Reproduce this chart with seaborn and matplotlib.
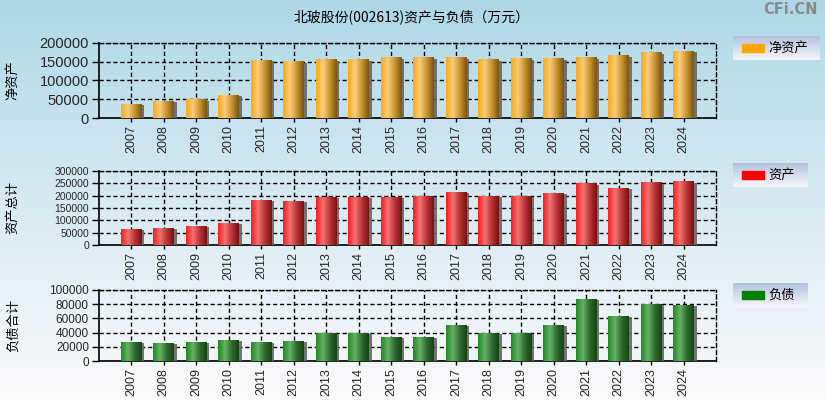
import numpy as np
import pandas as pd
import matplotlib
matplotlib.use("Agg")
import matplotlib.pyplot as plt
import matplotlib.patheffects as pe
from matplotlib.colors import LinearSegmentedColormap
import seaborn as sns

years = [str(y) for y in range(2007, 2025)]
net_assets = [37000, 45000, 50000, 61000, 154000, 151000, 156000, 156000, 161000,
              161000, 161000, 156000, 158500, 158500, 161000, 167000, 175000, 178000]
total_assets = [65600, 69600, 77700, 89700, 182000, 178000, 194000, 194000, 194000,
                199500, 214000, 199500, 199500, 210000, 250000, 230000, 254000, 258000]
liabilities = [26800, 25400, 26800, 29600, 26800, 28200, 39400, 39400, 33800,
               33800, 50700, 39400, 39400, 50700, 87300, 63400, 80300, 78900]

title = "北玻股份(002613)资产与负债（万元）"
ylabels = ["净资产", "资产总计", "负债合计"]
legend_labels = ["净资产", "资产", "负债"]
legend_colors = ["#FFA500", "#FF0000", "#008000"]
yticks_list = [list(range(0, 200001, 50000)), list(range(0, 300001, 50000)),
               list(range(0, 100001, 20000))]
tick_sizes = [10.5, 7.5, 8.5]

grads = [
    ["#FFAA10", "#F9CC80", "#C8942E", "#7A5414"],
    ["#FF1A1A", "#F07474", "#B83434", "#7A1010"],
    ["#1E8C1E", "#68B068", "#2E6A2E", "#144414"],
]

sns.set_theme(style="white")
plt.rcParams['font.family'] = ['Noto Sans CJK SC', 'DejaVu Sans']
plt.rcParams['axes.unicode_minus'] = False

fig = plt.figure(figsize=(8.25, 4), dpi=100)

# background gradient
bg = fig.add_axes([0, 0, 1, 1], zorder=-10)
bg_cmap = LinearSegmentedColormap.from_list("bg", ["#ADD8E6", "#D8EAF2", "#FBFAFA"])
bg.imshow(np.linspace(0, 1, 256).reshape(-1, 1), aspect="auto", cmap=bg_cmap,
          extent=[0, 1, 0, 1], origin="upper")
bg.set_axis_off()

positions = [
    [98.7/825, (400-118)/400, (716-98.7)/825, (118-42.7)/400],
    [98.7/825, (400-245.3)/400, (716-98.7)/825, (245.3-170.7)/400],
    [98.7/825, (400-361)/400, (716-98.7)/825, (361-290)/400],
]
series = [net_assets, total_assets, liabilities]
legend_boxes = [(733, 36, 820, 60), (733, 163, 808, 187), (733, 283, 808, 307)]

for i in range(3):
    ax = fig.add_axes(positions[i])
    ax.patch.set_alpha(0)
    df = pd.DataFrame({"year": years, "value": series[i]})
    sns.barplot(data=df, x="year", y="value", ax=ax, color=legend_colors[i],
                width=0.63, saturation=1, zorder=3, linewidth=0, edgecolor="none")
    cmap = LinearSegmentedColormap.from_list("g%d" % i, grads[i])
    gimg = np.linspace(0, 1, 64).reshape(1, -1)
    for p in ax.patches:
        x0, y0 = p.get_x(), p.get_y()
        w, h = p.get_width(), p.get_height()
        p.set_path_effects([pe.SimplePatchShadow(offset=(2, -1), shadow_rgbFace="#666666", alpha=0.9),
                            pe.Normal()])
        im = ax.imshow(gimg, cmap=cmap, aspect="auto", extent=[x0, x0 + w, y0, y0 + h],
                       zorder=4)
        im.set_clip_path(p)
    ax.set_xlim(-1, 18)
    yt = yticks_list[i]
    ax.set_ylim(0, yt[-1])
    ax.set_yticks(yt)
    ax.set_yticklabels([str(v) for v in yt], fontsize=tick_sizes[i], family="Liberation Sans")
    ax.set_xticks(range(len(years)))
    ax.set_xticklabels(years, rotation=90, fontsize=9, family="Liberation Sans")
    ax.set_xlabel("")
    ax.set_ylabel("")
    ax.grid(True, axis="both", color="black", linestyle=(0, (3, 2)), linewidth=1, zorder=1)
    ax.set_axisbelow(True)
    for s in ["top", "right"]:
        ax.spines[s].set_visible(True)
        ax.spines[s].set_color("black")
        ax.spines[s].set_linestyle((0, (3, 2)))
        ax.spines[s].set_linewidth(1)
    for s in ["left", "bottom"]:
        ax.spines[s].set_color("black")
        ax.spines[s].set_linewidth(1.2)
    ax.tick_params(axis="y", direction="out", length=5, width=1, color="black", pad=2, left=True)
    ax.tick_params(axis="x", direction="out", length=3, width=1, color="black", pad=2, bottom=True)
    # y label
    fig.text(13/825, positions[i][1] + positions[i][3] / 2, ylabels[i], rotation=90,
             ha="center", va="center", fontsize=9.5, color="black")
    # legend box
    lx0, ly0, lx1, ly1 = legend_boxes[i]
    lax = fig.add_axes([lx0/825, (400-ly1)/400, (lx1-lx0)/825, (ly1-ly0)/400])
    lcm = LinearSegmentedColormap.from_list("lg", ["#B4C2DE", "#F6F6FA"])
    lax.imshow(np.linspace(0, 1, 64).reshape(-1, 1), aspect="auto", cmap=lcm,
               extent=[0, 1, 0, 1], origin="upper")
    lax.set_xlim(0, 1); lax.set_ylim(0, 1)
    lax.set_axis_off()
    bw = (lx1 - lx0)
    lax.add_patch(plt.Rectangle((9/bw, 0.33), 22/bw, 0.34, color=legend_colors[i], zorder=3))
    lax.text(35/bw, 0.5, legend_labels[i], ha="left", va="center", fontsize=9.5, color="black")

fig.text(412/825, 1 - 17/400, title, ha="center", va="center", fontsize=10, color="black")
fig.text(818/825, 1 - 10/400, "CFi.CN", ha="right", va="center", fontsize=10.5,
         fontweight="bold", color="#8A8A8A", family="DejaVu Sans")

fig.savefig("out.png", dpi=100)
